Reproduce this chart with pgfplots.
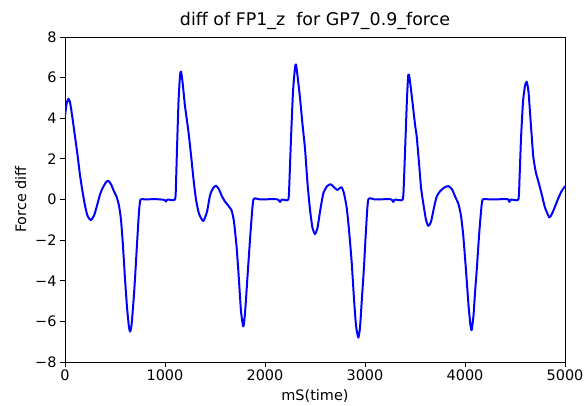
\documentclass[border=0pt]{standalone}
\usepackage{fontspec}
\setmainfont{DejaVu Sans}
\usepackage{pgfplots}
\usetikzlibrary{calc}
\pgfplotsset{compat=1.18}
\begin{document}
\begin{tikzpicture}
\begin{axis}[
 scale only axis, width=500bp, height=325bp,
 xmin=0, xmax=5000, ymin=-8, ymax=8,
 xtick={0,1000,2000,3000,4000,5000},
 xticklabels={0,1000,2000,3000,4000,5000},
 ytick={-8,-6,-4,-2,0,2,4,6,8},
 yticklabels={−8,−6,−4,−2,0,2,4,6,8},
 tick pos=left, tick align=outside, major tick length=5bp,
 tick style={black, line width=0.8pt},
 axis line style={line width=0.8pt},
 /pgf/number format/assume math mode=true,
 ticklabel style={font=\fontsize{14.5}{16}\selectfont},
 xticklabel style={yshift=1bp},
 title={diff of FP1\_z\ \ for GP7\_0.9\_force},
 title style={font=\fontsize{17.5}{20}\selectfont, yshift=-2bp},
 xlabel={mS(time)}, ylabel={Force diff},
 label style={font=\fontsize{14.5}{16}\selectfont},
 xlabel style={yshift=-2bp},
 ylabel style={yshift=2bp},
]
\addplot[blue, line width=2pt, line join=round, smooth, tension=0.35] coordinates {
(0,4.1) (15,4.7) (33,4.95) (50,4.8) (75,4.0) (100,3.1) (125,2.2) (150,1.2) (175,0.4) (200,-0.3) (225,-0.8) (257,-1.02) (290,-0.8) (320,-0.3) (350,0.25) (380,0.6) (410,0.85) (433,0.92) (460,0.75) (490,0.4) (515,0.15) (540,-0.3) (560,-1.0) (580,-2.3) (600,-3.9) (620,-5.3) (640,-6.3) (652,-6.5) (665,-6.2) (685,-5.0) (700,-3.9) (720,-2.2) (740,-0.6) (755,0.0) (800,0.0) (900,0.02) (995,-0.02) (1010,-0.1) (1025,0.0) (1100,0.0) (1110,0.8) (1120,2.5) (1135,4.8) (1150,6.1) (1160,6.3) (1175,5.8) (1200,4.6) (1233,3.4) (1260,2.2) (1285,1.0) (1310,0.0) (1340,-0.7) (1383,-1.06) (1420,-0.6) (1450,0.2) (1480,0.55) (1510,0.68) (1540,0.5) (1570,0.15) (1600,-0.1) (1640,-0.35) (1667,-0.55) (1690,-1.1) (1717,-2.4) (1740,-4.0) (1760,-5.5) (1783,-6.25) (1800,-5.6) (1833,-3.2) (1860,-1.3) (1885,0.0) (1950,0.0) (2100,0.02) (2135,-0.02) (2150,-0.12) (2170,0.0) (2233,0.0) (2245,1.0) (2260,3.0) (2280,5.3) (2300,6.5) (2310,6.65) (2325,6.1) (2350,5.0) (2375,3.7) (2400,2.5) (2425,0.8) (2450,-0.5) (2475,-1.4) (2500,-1.7) (2525,-1.4) (2550,-0.6) (2583,0.3) (2620,0.65) (2657,0.75) (2690,0.6) (2723,0.47) (2745,0.55) (2767,0.6) (2790,0.3) (2817,-0.4) (2840,-1.5) (2867,-3.1) (2890,-4.9) (2910,-6.2) (2933,-6.8) (2950,-6.3) (2970,-4.8) (2990,-3.3) (3010,-1.5) (3033,0.0) (3100,0.0) (3250,0.02) (3270,-0.02) (3283,-0.12) (3300,0.0) (3377,0.0) (3390,1.0) (3405,3.0) (3420,5.0) (3433,6.15) (3445,6.0) (3470,5.0) (3500,3.7) (3517,3.1) (3540,1.8) (3560,0.6) (3583,-0.2) (3610,-1.0) (3633,-1.3) (3660,-1.1) (3690,-0.4) (3717,0.15) (3750,0.4) (3790,0.58) (3833,0.66) (3870,0.5) (3905,0.1) (3933,-0.2) (3960,-0.8) (3983,-1.8) (4010,-3.5) (4035,-5.2) (4055,-6.2) (4067,-6.43) (4085,-5.7) (4100,-4.6) (4117,-3.5) (4140,-1.8) (4160,-0.6) (4177,0.0) (4250,0.0) (4420,0.02) (4435,-0.02) (4443,-0.12) (4460,0.0) (4533,0.0) (4545,1.0) (4560,3.0) (4580,4.8) (4600,5.6) (4617,5.8) (4635,5.3) (4660,3.6) (4683,2.1) (4710,1.3) (4733,0.9) (4770,0.2) (4800,-0.4) (4843,-0.88) (4870,-0.7) (4900,-0.35) (4933,0.06) (4965,0.4) (5000,0.66)
};
\end{axis}
\pgfresetboundingbox
\path (current axis.south west) ++(-65bp,-43bp) rectangle ($(current axis.north east)+(19bp,37bp)$);
\end{tikzpicture}
\end{document}
